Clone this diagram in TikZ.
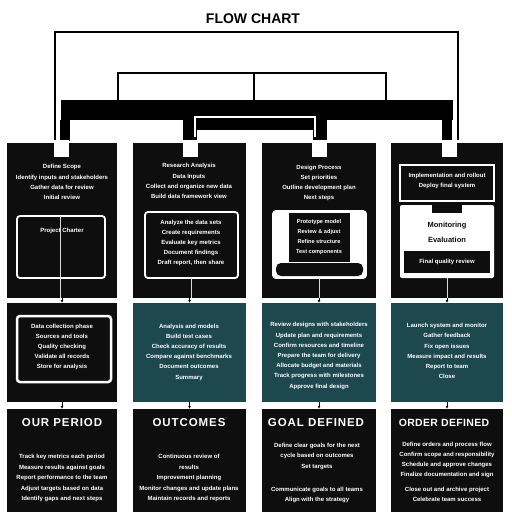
\documentclass[tikz,border=0pt]{standalone}
\usepackage{fontspec}
\setmainfont{Liberation Sans}
\usetikzlibrary{arrows.meta}
\definecolor{boxblk}{RGB}{14,14,14}
\definecolor{tealbox}{RGB}{28,72,78}
\definecolor{tipgray}{RGB}{150,150,150}
\begin{document}
\begin{tikzpicture}[x=1pt,y=-1pt,
  box/.style={fill=boxblk,anchor=north west,inner sep=0pt,outer sep=0pt},
  tbox/.style={box,fill=tealbox},
  frame/.style={draw=white,line width=1.8pt,rounded corners=3pt,fill=boxblk,anchor=north west,inner sep=0pt,outer sep=0pt},
  txt/.style={text=white,font=\bfseries\fontsize{6}{10.2}\selectfont,align=center,inner sep=0pt},
  ttl/.style={text=white,font=\bfseries\fontsize{11.5}{11.5}\selectfont\addfontfeatures{LetterSpace=8},inner sep=0pt},
  inl/.style={draw=white!85!black,line width=0.8pt},
  conn/.style={draw=black,line width=1pt,-{Latex[length=3pt,width=3pt,fill=tipgray]}},
  bar/.style={fill=black}]
\useasboundingbox (0,0) rectangle (512,512);
\fill[white] (0,0) rectangle (512,512);

% title
\node[font=\bfseries\fontsize{14}{14}\selectfont,inner sep=0pt] (title) at (253,19) {FLOW CHART};

% bracket structure
\draw[line width=2pt] (55,140) -- (55,32) -- (458,32) -- (458,140);
\draw[line width=1.6pt] (118,100) -- (118,73) -- (386,73) -- (386,100);
\draw[line width=1.6pt] (254,73) -- (254,100);
\fill[bar] (61,100) rectangle (453,120);
\fill[bar] (60,120) rectangle (70,141);
\fill[bar] (183,120) rectangle (197,141);
\fill[bar] (313,120) rectangle (327,141);
\fill[bar] (442,120) rectangle (452,141);
\fill[bar] (195,118) rectangle (315,130);
\draw[white,line width=1.2pt] (195,137) -- (195,117) -- (315,117) -- (315,137);

% top row boxes
\node[box,minimum width=110pt,minimum height=155pt] (t1) at (7,143) {};
\node[box,minimum width=113pt,minimum height=155pt] (t2) at (133,143) {};
\node[box,minimum width=114pt,minimum height=155pt] (t3) at (262,143) {};
\node[box,minimum width=112pt,minimum height=155pt] (t4) at (391,143) {};

% tabs
\fill[white] (54,140) rectangle (69,157);
\fill[white] (183,140) rectangle (198,157);
\fill[white] (312,140) rectangle (327,157);
\fill[white] (442,140) rectangle (457,157);

% middle row
\node[box,minimum width=110pt,minimum height=99pt] (m1) at (7,303) {};
\node[tbox,minimum width=113pt,minimum height=99pt] (m2) at (133,303) {};
\node[tbox,minimum width=114pt,minimum height=99pt] (m3) at (262,303) {};
\node[tbox,minimum width=112pt,minimum height=99pt] (m4) at (391,303) {};

% bottom row
\node[box,minimum width=110pt,minimum height=104pt] (b1) at (7,409) {};
\node[box,minimum width=113pt,minimum height=104pt] (b2) at (133,409) {};
\node[box,minimum width=114pt,minimum height=104pt] (b3) at (262,409) {};
\node[box,minimum width=112pt,minimum height=104pt] (b4) at (391,409) {};

% top row inner shapes
\node[frame,minimum width=88pt,minimum height=62pt] (f1) at (17,216) {};
\draw[inl] (60,216) -- (60,298);
\node[frame,minimum width=93pt,minimum height=66pt] (f2) at (145,212) {};
\draw[inl] (f2.south) -- (f2.south |- t2.south);
\node[frame,fill=white,minimum width=93pt,minimum height=67pt] (f3) at (273,211) {};
\node[box,minimum width=61pt,minimum height=49pt] (f3in) at (289,213) {};
\node[box,rounded corners=5pt,minimum width=87pt,minimum height=13pt] (f3bar) at (276,263) {};
\draw[inl] (f3.south) -- (f3.south |- t3.south);
\node[draw=white,line width=1.5pt,anchor=north west,inner sep=0pt,outer sep=0pt,minimum width=94pt,minimum height=36pt] (f4a) at (400,165) {};
\node[fill=white,rounded corners=2pt,anchor=north west,inner sep=0pt,outer sep=0pt,minimum width=94pt,minimum height=73pt] (f4b) at (400,205) {};
\node[box,minimum width=30pt,minimum height=8pt] (f4n) at (432,205) {};
\node[box,minimum width=86pt,minimum height=22pt] (f4bar) at (404,251) {};
\draw[inl] (f4b.south) -- (f4b.south |- t4.south);

% middle col1 frame
\node[frame,line width=2.5pt,minimum width=94pt,minimum height=66pt] (mf1) at (17,316) {};

% top texts
\node[txt] (t1x) at (62,182) {Define Scope\\Identify inputs and stakeholders\\Gather data for review\\Initial review};
\node[txt] (f1x) at (62,231) {Project Charter};
\node[txt] (t2x) at (189,181) {Research Analysis\\Data Inputs\\Collect and organize new data\\Build data framework view};
\node[txt] (f2x) at (191,243) {Analyze the data sets\\Create requirements\\Evaluate key metrics\\Document findings\\Draft report, then share};
\node[txt] (t3x) at (319,183) {Design Process\\Set priorities\\Outline development plan\\Next steps};
\node[txt,font=\bfseries\fontsize{5.6}{10.2}\selectfont] (f3x) at (319,237) {Prototype model\\Review \& adjust\\Refine structure\\Test components};
\node[txt] (t4x) at (447,181) {Implementation and rollout\\Deploy final system};
\node[txt,text=boxblk,font=\bfseries\fontsize{7.5}{15}\selectfont] (w4x) at (447,232) {Monitoring\\Evaluation};
\node[txt] (bar4x) at (447,262) {Final quality review};

% middle texts
\node[txt] (m1x) at (62,347) {Data collection phase\\Sources and tools\\Quality checking\\Validate all records\\Store for analysis};
\node[txt] (m2x) at (189,352) {Analysis and models\\Build test cases\\Check accuracy of results\\Compare against benchmarks\\Document outcomes\\Summary};
\node[txt] (m3x) at (319,356) {Review designs with stakeholders\\Update plan and requirements\\Confirm resources and timeline\\Prepare the team for delivery\\Allocate budget and materials\\Track progress with milestones\\Approve final design};
\node[txt] (m4x) at (447,351) {Launch system and monitor\\Gather feedback\\Fix open issues\\Measure impact and results\\Report to team\\Close};

% bottom texts
\node[ttl] (b1t) at (62,423) {OUR PERIOD};
\node[ttl] (b2t) at (189,423) {OUTCOMES};
\node[ttl] (b3t) at (316,423) {GOAL DEFINED};
\node[ttl,font=\bfseries\fontsize{10.5}{10.5}\selectfont\addfontfeatures{LetterSpace=3}] (b4t) at (444,423) {ORDER DEFINED};
\node[txt,font=\bfseries\fontsize{6}{10.5}\selectfont] (b1x) at (62,478) {Track key metrics each period\\Measure results against goals\\Report performance to the team\\Adjust targets based on data\\Identify gaps and next steps};
\node[txt,font=\bfseries\fontsize{6}{10.5}\selectfont] (b2x) at (189,478) {Continuous review of\\results\\Improvement planning\\Monitor changes and update plans\\Maintain records and reports};
\node[txt,font=\bfseries\fontsize{6}{10.5}\selectfont] (b3x) at (317,456) {Define clear goals for the next\\cycle based on outcomes\\Set targets};
\node[txt,font=\bfseries\fontsize{6}{10}\selectfont] (b3y) at (317,494.5) {Communicate goals to all teams\\Align with the strategy};
\node[txt,font=\bfseries\fontsize{6}{10}\selectfont] (b4x) at (447,460) {Define orders and process flow\\Confirm scope and responsibility\\Schedule and approve changes\\Finalize documentation and sign};
\node[txt,font=\bfseries\fontsize{6}{10}\selectfont] (b4y) at (447,494.5) {Close out and archive project\\Celebrate team success};

% connectors
\draw[conn] (t1.south) -- (m1.north);
\draw[conn] (t2.south) -- (m2.north);
\draw[conn] (t3.south) -- (m3.north);
\draw[conn] (t4.south) -- (m4.north);
\draw[conn] (m1.south) -- (b1.north);
\draw[conn] (m2.south) -- (b2.north);
\draw[conn] (m3.south) -- (b3.north);
\draw[conn] (m4.south) -- (b4.north);
\end{tikzpicture}
\end{document}
